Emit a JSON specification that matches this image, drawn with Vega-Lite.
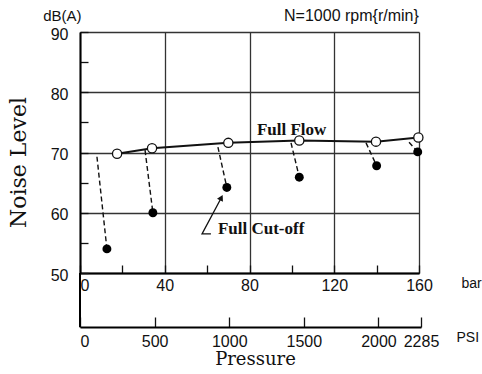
{
  "$schema": "https://vega.github.io/schema/vega-lite/v6.json",
  "width": 339,
  "height": 241,
  "autosize": {"type": "none"},
  "padding": {"left": 80, "top": 32, "right": 63, "bottom": 101},
  "background": "white",
  "config": {
    "view": {"stroke": null},
    "axis": {
      "labelFont": "Liberation Sans",
      "labelFontSize": 16,
      "labelColor": "#111",
      "domainColor": "#000",
      "domainWidth": 2,
      "tickColor": "#111",
      "tickWidth": 1.3,
      "gridColor": "#333",
      "gridWidth": 1.3,
      "labelOverlap": false
    }
  },
  "title": {"text": "Pressure", "orient": "bottom", "font": "DejaVu Serif", "fontSize": 18, "fontWeight": "normal", "color": "#111", "offset": 2, "dx": 6},
  "datasets": {
    "flow": [{"bar": 17.5, "db": 69.8}, {"bar": 34, "db": 70.7}, {"bar": 70, "db": 71.6}, {"bar": 103.5, "db": 72.0}, {"bar": 139.7, "db": 71.8}, {"bar": 159.7, "db": 72.5}],
    "cutoff": [{"bar": 12.7, "db": 54.0}, {"bar": 34.4, "db": 60.0}, {"bar": 69.3, "db": 64.2}, {"bar": 103.5, "db": 65.9}, {"bar": 140, "db": 67.8}, {"bar": 159.4, "db": 70.1}],
    "links": [
      {"bar": 8.0, "db": 69.3, "bar2": 12.7, "db2": 54.0},
      {"bar": 30.7, "db": 70.4, "bar2": 34.4, "db2": 60.0},
      {"bar": 65.1, "db": 70.9, "bar2": 69.3, "db2": 64.2},
      {"bar": 99.6, "db": 71.6, "bar2": 103.5, "db2": 65.9},
      {"bar": 135, "db": 71.6, "bar2": 140, "db2": 67.8},
      {"bar": 155.3, "db": 71.7, "bar2": 159.4, "db2": 70.1}
    ],
    "arrow": [{"bar": 61.8, "db": 56.5, "o": 1}, {"bar": 57.6, "db": 56.5, "o": 2}, {"bar": 66.7, "db": 62.5, "o": 3}],
    "arrowhead": [{"bar": 66.7, "db": 62.5}]
  },
  "layer": [
    {
      "data": {"name": "flow"},
      "mark": {"type": "line", "color": "#111", "strokeWidth": 2},
      "encoding": {
        "x": {
          "field": "bar", "type": "quantitative",
          "scale": {"domain": [0, 160]},
          "axis": {
            "orient": "bottom",
            "values": [0, 20, 40, 60, 80, 100, 120, 140, 160],
            "format": "d",
            "labelExpr": "datum.value % 40 == 0 ? datum.label : ''",
            "labelFlush": false,
            "labelAlign": {"condition": {"test": "datum.value == 0", "value": "left"}, "value": "center"},
            "tickSize": -8,
            "labelPadding": 12,
            "grid": true,
            "gridOpacity": {"condition": {"test": "datum.value % 40 != 0", "value": 0}, "value": 1},
            "title": "bar",
            "titleX": 381, "titleY": 10,
            "titleAlign": "left", "titleBaseline": "middle",
            "titleFont": "Liberation Sans", "titleFontSize": 14, "titleFontWeight": "normal", "titleColor": "#111"
          }
        },
        "y": {
          "field": "db", "type": "quantitative",
          "scale": {"domain": [50, 90]},
          "axis": {
            "orient": "left",
            "values": [50, 55, 60, 65, 70, 75, 80, 85, 90],
            "format": "d",
            "labelExpr": "datum.value % 10 == 0 ? datum.label : ''",
            "labelOffset": 2,
            "tickSize": -8,
            "labelPadding": 20,
            "grid": true,
            "gridOpacity": {"condition": {"test": "datum.value % 10 != 0", "value": 0}, "value": 1},
            "title": "Noise Level",
            "titleFont": "DejaVu Serif", "titleFontSize": 22, "titleFontWeight": "normal", "titleColor": "#111",
            "titleAngle": 270, "titleX": -62, "titleY": 130,
            "titleAlign": "center", "titleBaseline": "middle"
          }
        }
      }
    },
    {
      "data": {"name": "links"},
      "mark": {"type": "rule", "color": "#111", "strokeWidth": 1.4, "strokeDash": [5, 3]},
      "encoding": {
        "x": {"field": "bar", "type": "quantitative", "scale": {"domain": [0, 160]}, "axis": null},
        "y": {"field": "db", "type": "quantitative", "scale": {"domain": [50, 90]}, "axis": null},
        "x2": {"field": "bar2"},
        "y2": {"field": "db2"}
      }
    },
    {
      "data": {"name": "flow"},
      "mark": {"type": "point", "shape": "circle", "filled": true, "fill": "white", "stroke": "#111", "strokeWidth": 1.3, "size": 85, "opacity": 1},
      "encoding": {
        "x": {"field": "bar", "type": "quantitative", "scale": {"domain": [0, 160]}, "axis": null},
        "y": {"field": "db", "type": "quantitative", "scale": {"domain": [50, 90]}, "axis": null}
      }
    },
    {
      "data": {"name": "cutoff"},
      "mark": {"type": "point", "shape": "circle", "filled": true, "color": "#000", "size": 80, "opacity": 1},
      "encoding": {
        "x": {"field": "bar", "type": "quantitative", "scale": {"domain": [0, 160]}, "axis": null},
        "y": {"field": "db", "type": "quantitative", "scale": {"domain": [50, 90]}, "axis": null}
      }
    },
    {
      "data": {"name": "arrow"},
      "mark": {"type": "line", "color": "#111", "strokeWidth": 1.3},
      "encoding": {
        "x": {"field": "bar", "type": "quantitative", "scale": {"domain": [0, 160]}, "axis": null},
        "y": {"field": "db", "type": "quantitative", "scale": {"domain": [50, 90]}, "axis": null},
        "order": {"field": "o", "type": "quantitative"}
      }
    },
    {
      "data": {"name": "arrowhead"},
      "mark": {"type": "point", "shape": "triangle-up", "filled": true, "color": "#111", "size": 45, "angle": 28, "opacity": 1},
      "encoding": {
        "x": {"field": "bar", "type": "quantitative", "scale": {"domain": [0, 160]}, "axis": null},
        "y": {"field": "db", "type": "quantitative", "scale": {"domain": [50, 90]}, "axis": null}
      }
    },
    {
      "data": {"values": [{}]},
      "mark": {"type": "rule", "color": "#000", "strokeWidth": 2},
      "encoding": {
        "x": {"datum": 0, "type": "quantitative", "scale": {"domain": [0, 160]}, "axis": null},
        "y": {"datum": 50, "type": "quantitative", "scale": {"domain": [50, 90]}, "axis": null},
        "y2": {"datum": 41}
      }
    },
    {
      "data": {"values": [{}]},
      "mark": {"type": "text", "text": "Full Flow", "font": "Liberation Serif", "fontWeight": "bold", "fontSize": 17, "align": "left", "baseline": "alphabetic", "color": "#111"},
      "encoding": {
        "x": {"datum": 83.5, "type": "quantitative", "scale": {"domain": [0, 160]}, "axis": null},
        "y": {"datum": 72.9, "type": "quantitative", "scale": {"domain": [50, 90]}, "axis": null}
      }
    },
    {
      "data": {"values": [{}]},
      "mark": {"type": "text", "text": "Full Cut-off", "font": "Liberation Serif", "fontWeight": "bold", "fontSize": 17, "align": "left", "baseline": "alphabetic", "color": "#111"},
      "encoding": {
        "x": {"datum": 65.1, "type": "quantitative", "scale": {"domain": [0, 160]}, "axis": null},
        "y": {"datum": 56.4, "type": "quantitative", "scale": {"domain": [50, 90]}, "axis": null}
      }
    },
    {
      "data": {"values": [{}]},
      "mark": {"type": "text", "text": "dB(A)", "font": "Liberation Sans", "fontSize": 15, "align": "center", "baseline": "middle", "color": "#111"},
      "encoding": {
        "x": {"datum": -8.3, "type": "quantitative", "scale": {"domain": [0, 160]}, "axis": null},
        "y": {"datum": 92.7, "type": "quantitative", "scale": {"domain": [50, 90]}, "axis": null}
      }
    },
    {
      "data": {"values": [{}]},
      "mark": {"type": "text", "text": "N=1000 rpm{r/min}", "font": "Liberation Sans", "fontSize": 16, "align": "center", "baseline": "middle", "color": "#111"},
      "encoding": {
        "x": {"datum": 128.1, "type": "quantitative", "scale": {"domain": [0, 160]}, "axis": null},
        "y": {"datum": 92.7, "type": "quantitative", "scale": {"domain": [50, 90]}, "axis": null}
      }
    },
    {
      "data": {"values": [{}]},
      "mark": {"type": "rule", "opacity": 0},
      "encoding": {
        "x": {
          "datum": 0, "type": "quantitative",
          "scale": {"domain": [0, 2285], "range": [0, 341]},
          "axis": {
            "orient": "bottom",
            "offset": 54,
            "values": [0, 500, 1000, 1500, 2000, 2285],
            "format": "d",
            "labelFlush": false,
            "labelAlign": {"condition": {"test": "datum.value == 0", "value": "left"}, "value": "center"},
            "tickSize": -10,
            "labelPadding": 16,
            "grid": false,
            "title": "PSI",
            "titleX": 376, "titleY": 10,
            "titleAlign": "left", "titleBaseline": "middle",
            "titleFont": "Liberation Sans", "titleFontSize": 14, "titleFontWeight": "normal", "titleColor": "#111"
          }
        }
      }
    }
  ],
  "resolve": {"scale": {"x": "independent", "y": "independent"}}
}
